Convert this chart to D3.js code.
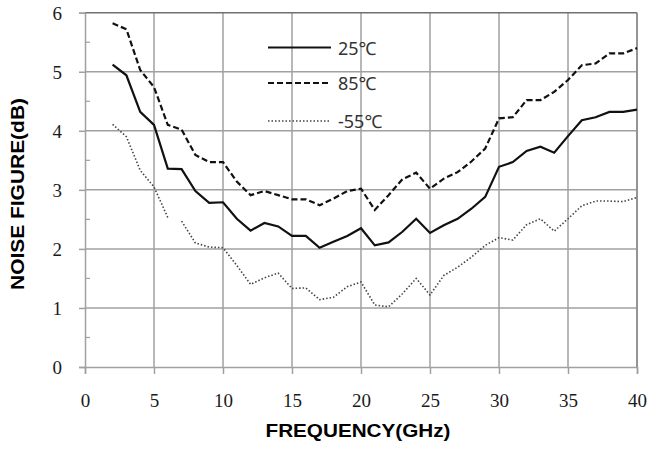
<!DOCTYPE html>
<html>
<head>
<meta charset="utf-8">
<script src="https://cdn.jsdelivr.net/npm/d3@7"></script>
<style>
  body { margin: 0; background: #fff; }
  svg { display: block; }
</style>
</head>
<body>
<svg id="chart" width="649" height="452"></svg>
<script>
// frequency points (GHz)
var freq = [2, 3, 4, 5, 6, 7, 8, 9, 10, 11, 12, 13, 14, 15, 16, 17, 18, 19, 20,
            21, 22, 23, 24, 25, 26, 27, 28, 29, 30, 31, 32, 33, 34, 35, 36, 37, 38, 39, 40];

// noise figure (dB) per temperature
var nf25 = [5.12, 4.94, 4.32, 4.10, 3.36, 3.35, 2.98, 2.78, 2.79, 2.51, 2.31, 2.44, 2.38, 2.22, 2.22, 2.02, 2.12, 2.22, 2.35,
            2.06, 2.11, 2.29, 2.51, 2.27, 2.40, 2.51, 2.68, 2.88, 3.39, 3.47, 3.66, 3.73, 3.63, 3.91, 4.18, 4.23, 4.32, 4.32, 4.36];
var nf85 = [5.82, 5.72, 5.03, 4.74, 4.10, 4.02, 3.59, 3.47, 3.47, 3.14, 2.91, 2.98, 2.91, 2.84, 2.84, 2.74, 2.85, 2.98, 3.02,
            2.66, 2.91, 3.18, 3.29, 3.02, 3.19, 3.30, 3.48, 3.70, 4.21, 4.23, 4.52, 4.52, 4.66, 4.86, 5.11, 5.14, 5.31, 5.31, 5.40];
var nfm55 = [4.11, 3.90, 3.33, 3.05, 2.53, 2.47, 2.10, 2.03, 2.02, 1.72, 1.40, 1.51, 1.59, 1.33, 1.34, 1.14, 1.18, 1.36, 1.44,
             1.05, 1.02, 1.24, 1.50, 1.22, 1.55, 1.69, 1.86, 2.06, 2.19, 2.15, 2.41, 2.51, 2.30, 2.51, 2.73, 2.81, 2.81, 2.80, 2.87];
// the -55 trace has a break between these two frequencies
var gap55 = [6, 7];

var seriesNames = ["25\u2103", "85\u2103", "-55\u2103"];
var xTicks = [0, 5, 10, 15, 20, 25, 30, 35, 40];
var yTicks = [0, 1, 2, 3, 4, 5, 6];
var yMinor = [0.5, 1.5, 2.5, 3.5, 4.5, 5.5];

var svg = d3.select("#chart");

var xScale = d3.scaleLinear().domain([0, 40]).range([85, 637]);
var yScale = d3.scaleLinear().domain([0, 6]).range([367, 12.7]);

var gridColor = "#a0a0a0";

// grid
svg.append("g").selectAll("line.vgrid")
   .data(xTicks.slice(1))
   .enter()
   .append("line")
   .attr("x1", function(d) { return xScale(d); })
   .attr("x2", function(d) { return xScale(d); })
   .attr("y1", yScale(0))
   .attr("y2", yScale(6))
   .attr("stroke", gridColor)
   .attr("stroke-width", 1.5);

svg.append("g").selectAll("line.hgrid")
   .data(yTicks.slice(1))
   .enter()
   .append("line")
   .attr("x1", xScale(0))
   .attr("x2", xScale(40))
   .attr("y1", function(d) { return yScale(d); })
   .attr("y2", function(d) { return yScale(d); })
   .attr("stroke", function(d) { return d == 6 ? "#707070" : gridColor; })
   .attr("stroke-width", 1.5);

// axes
var xAxis = d3.axisBottom(xScale).tickValues(xTicks).tickSize(7).tickFormat(d3.format("d"));
var yAxis = d3.axisLeft(yScale).tickValues(yTicks).tickSize(6).tickFormat(d3.format("d"));

var gx = svg.append("g")
   .attr("transform", "translate(0," + yScale(0) + ")")
   .call(xAxis);
var gy = svg.append("g")
   .attr("transform", "translate(" + xScale(0) + ",0)")
   .call(yAxis);

[gx, gy].forEach(function(g) {
    g.attr("font-family", null).attr("font-size", null);
    g.select(".domain").attr("stroke", gridColor).attr("stroke-width", 1.5);
    g.selectAll(".tick line").attr("stroke", gridColor).attr("stroke-width", 1.5);
    g.selectAll(".tick text")
     .attr("fill", "#1a1a1a")
     .style("font-family", "'Liberation Serif', 'DejaVu Serif', serif")
     .style("font-size", "19px");
});
gx.selectAll(".tick text").attr("dy", "0").attr("y", 40);
gy.selectAll(".tick text").attr("x", -23).attr("dy", "0.35em");

// minor y ticks, inside the plot
svg.append("g").selectAll("line.minor")
   .data(yMinor)
   .enter()
   .append("line")
   .attr("x1", xScale(0))
   .attr("x2", xScale(0) + 5)
   .attr("y1", function(d) { return yScale(d); })
   .attr("y2", function(d) { return yScale(d); })
   .attr("stroke", gridColor)
   .attr("stroke-width", 1.2);

// right border
svg.append("line")
   .attr("x1", xScale(40)).attr("x2", xScale(40))
   .attr("y1", yScale(0)).attr("y2", yScale(6))
   .attr("stroke", "#888").attr("stroke-width", 1.5);

// traces
var line = d3.line()
   .x(function(d) { return xScale(d.f); })
   .y(function(d) { return yScale(d.v); });

function records(vals) {
    return freq.map(function(f, i) { return {"f": f, "v": vals[i]}; });
}

var styles = [
    {"dash": null, "width": 2.2, "color": "#111"},
    {"dash": "6,3", "width": 2.2, "color": "#111"},
    {"dash": "1.5,2", "width": 1.6, "color": "#444"}
];

svg.append("path")
   .attr("d", line(records(nf25)))
   .attr("fill", "none")
   .attr("stroke", styles[0].color)
   .attr("stroke-width", styles[0].width);

svg.append("path")
   .attr("d", line(records(nf85)))
   .attr("fill", "none")
   .attr("stroke", styles[1].color)
   .attr("stroke-width", styles[1].width)
   .attr("stroke-dasharray", styles[1].dash);

var rec55 = records(nfm55);
[rec55.filter(function(d) { return d.f <= gap55[0]; }),
 rec55.filter(function(d) { return d.f >= gap55[1]; })].forEach(function(part) {
    svg.append("path")
       .attr("d", line(part))
       .attr("fill", "none")
       .attr("stroke", styles[2].color)
       .attr("stroke-width", styles[2].width)
       .attr("stroke-dasharray", styles[2].dash);
});

// legend
var legendY = [47.5, 83, 121];
var legend = svg.append("g");
seriesNames.forEach(function(name, i) {
    legend.append("line")
       .attr("x1", 268).attr("x2", 331)
       .attr("y1", legendY[i]).attr("y2", legendY[i])
       .attr("stroke", styles[i].color)
       .attr("stroke-width", styles[i].width)
       .attr("stroke-dasharray", styles[i].dash);
    legend.append("text")
       .attr("x", 338)
       .attr("y", legendY[i] + 7)
       .attr("fill", "#333")
       .style("font-family", "'Noto Sans', 'Noto Sans CJK SC', sans-serif")
       .style("font-size", "18px")
       .text(name);
});

// axis titles
svg.append("text")
   .attr("x", 358)
   .attr("y", 437)
   .attr("text-anchor", "middle")
   .style("font-family", "'Liberation Sans', Arial, sans-serif")
   .style("font-weight", "bold")
   .style("font-size", "18.5px")
   .attr("textLength", 185)
   .attr("lengthAdjust", "spacingAndGlyphs")
   .text("FREQUENCY(GHz)");

svg.append("text")
   .attr("transform", "translate(24,194) rotate(-90)")
   .attr("text-anchor", "middle")
   .style("font-family", "'Liberation Sans', Arial, sans-serif")
   .style("font-weight", "bold")
   .style("font-size", "18.5px")
   .attr("textLength", 192)
   .attr("lengthAdjust", "spacingAndGlyphs")
   .text("NOISE FIGURE(dB)");
</script>
</body>
</html>
